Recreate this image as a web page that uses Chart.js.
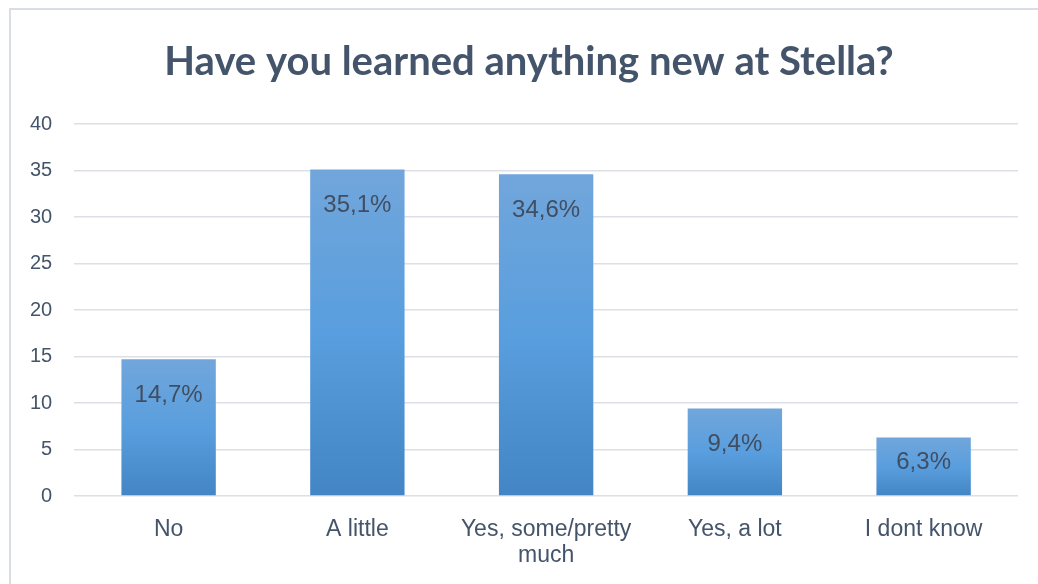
<!DOCTYPE html>
<html>
<head>
<meta charset="utf-8">
<script src="https://cdn.jsdelivr.net/npm/chart.js@4/dist/chart.umd.min.js"></script>
<style>
  html, body { margin: 0; padding: 0; background: #fff; }
  #wrap { position: relative; width: 1038px; height: 584px; overflow: hidden; }
  #frame {
    position: absolute; left: 9px; top: 8px; width: 1100px; height: 700px;
    border-top: 2px solid #D9DEE4; border-left: 2px solid #D9DEE4;
    pointer-events: none;
  }
</style>
</head>
<body>
<div id="wrap">
  <canvas id="learnChart" width="1038" height="584"></canvas>
  <div id="frame"></div>
</div>
<script>
// Survey answers and their shares (%)
const categories = ['No', 'A little', ['Yes, some/pretty', 'much'], 'Yes, a lot', 'I dont know'];
const shares = [14.7, 35.1, 34.6, 9.4, 6.3];
const yMin = 0;
const yMax = 40;
const yStep = 5;

const chartTitle = 'Have you learned anything new at Stella?';
const textColor = '#44546A';

// Each bar gets its own vertical gradient, lighter on top
function barGradient(context) {
    const chart = context.chart;
    const y = chart.scales && chart.scales.y;
    if (!y || context.dataIndex === undefined) return '#5B9BD5';
    const top = y.getPixelForValue(shares[context.dataIndex]);
    const bottom = y.getPixelForValue(0);
    if (!isFinite(top) || !isFinite(bottom) || top === bottom) return '#5B9BD5';
    const g = chart.ctx.createLinearGradient(0, top, 0, bottom);
    g.addColorStop(0, '#71A6DB');
    g.addColorStop(0.5, '#599EDE');
    g.addColorStop(1, '#4385C5');
    return g;
}

// Percentage written inside each bar, near its top (kept clear of the base on short bars)
const valueLabels = {
    id: 'valueLabels',
    afterDatasetsDraw(chart) {
        const ctx = chart.ctx;
        const meta = chart.getDatasetMeta(0);
        ctx.save();
        ctx.font = '24px "Liberation Sans", Arial, sans-serif';
        ctx.fillStyle = '#404E62';
        ctx.textAlign = 'center';
        ctx.textBaseline = 'middle';
        meta.data.forEach(function(bar, i) {
            const txt = shares[i].toFixed(1).replace('.', ',') + '%';
            const ty = Math.min(bar.y + 36, bar.base - 33);
            ctx.fillText(txt, bar.x, ty);
        });
        ctx.restore();
    }
};

// Title centred on the whole frame (not just the plot box)
const frameTitle = {
    id: 'frameTitle',
    afterDraw(chart) {
        const ctx = chart.ctx;
        ctx.save();
        ctx.font = 'bold 40px Lato, sans-serif';
        ctx.fillStyle = textColor;
        ctx.textAlign = 'center';
        ctx.textBaseline = 'middle';
        ctx.fillText(chartTitle, (chart.width + 20) / 2, 62);
        ctx.restore();
    }
};

new Chart(document.getElementById('learnChart'), {
    type: 'bar',
    data: {
        labels: categories,
        datasets: [{
            data: shares,
            backgroundColor: barGradient,
            borderWidth: 0,
            barPercentage: 0.5,
            categoryPercentage: 1.0
        }]
    },
    options: {
        responsive: false,
        animation: false,
        layout: { padding: { left: 8, right: 20, top: 124, bottom: 0 } },
        scales: {
            x: {
                grid: { display: false, drawTicks: false },
                border: { display: false },
                ticks: {
                    color: textColor,
                    font: { family: '"Liberation Sans", Arial, sans-serif', size: 23, lineHeight: 1.13 },
                    padding: 21,
                    maxRotation: 0,
                    autoSkip: false
                },
                afterFit: function(scale) { scale.height = 88; }
            },
            y: {
                min: yMin,
                max: yMax,
                grid: { color: '#DCE0E6', lineWidth: 1.5, drawTicks: false },
                border: { display: false },
                ticks: {
                    stepSize: yStep,
                    color: textColor,
                    font: { family: '"Liberation Sans", Arial, sans-serif', size: 20 },
                    padding: 22
                }
            }
        },
        plugins: {
            legend: { display: false },
            tooltip: { enabled: false },
            title: { display: false }
        }
    },
    plugins: [valueLabels, frameTitle]
});
</script>
</body>
</html>
